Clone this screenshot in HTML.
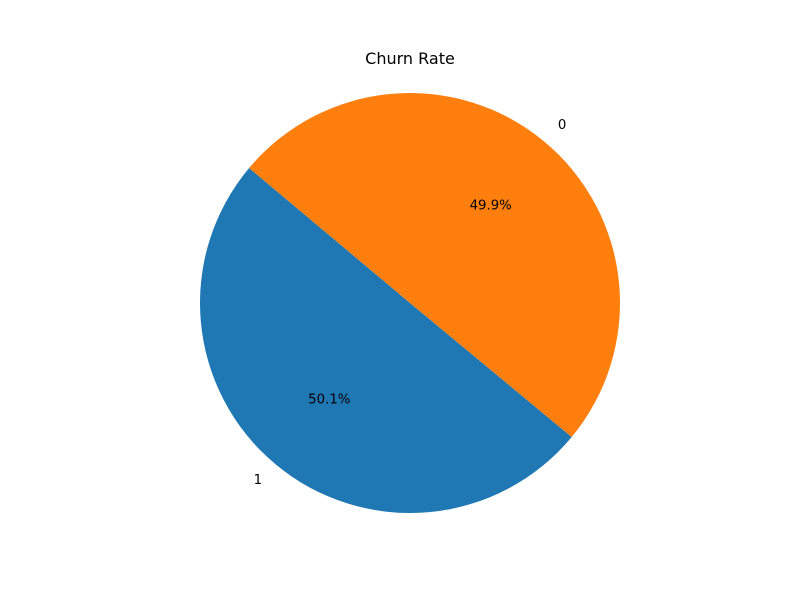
<!DOCTYPE html>
<html>
<head>
<meta charset="utf-8">
<style>
  html, body { margin: 0; padding: 0; background: #fff; }
  svg { display: block; font-family: "DejaVu Sans", "Liberation Sans", sans-serif; }
</style>
</head>
<body>
<svg id="chart" width="800" height="600" viewBox="0 0 800 600">
  <rect x="0" y="0" width="800" height="600" fill="#ffffff"/>
  <text x="410" y="64" text-anchor="middle" font-size="16" fill="#000">Churn Rate</text>
  <g id="slices"></g>
  <g id="labels"></g>
</svg>
<script>
const categories = ["1", "0"];
const values = [50.1, 49.9];
const colors = ["#1f77b4", "#ff7f0e"];
const startAngle = 140;

const cx = 410, cy = 303, r = 210;
const ns = "http://www.w3.org/2000/svg";
const total = values.reduce((a, b) => a + b, 0);
const sliceG = document.getElementById("slices");
const labelG = document.getElementById("labels");
function pt(deg, rad) {
  const a = deg * Math.PI / 180;
  return [cx + rad * Math.cos(a), cy - rad * Math.sin(a)];
}
let ang = startAngle;
values.forEach((v, i) => {
  const sweep = v / total * 360;
  const a0 = ang, a1 = ang + sweep;
  const p0 = pt(a0, r), p1 = pt(a1, r);
  const large = sweep > 180 ? 1 : 0;
  const path = document.createElementNS(ns, "path");
  path.setAttribute("d", `M${cx},${cy} L${p0[0]},${p0[1]} A${r},${r} 0 ${large} 0 ${p1[0]},${p1[1]} Z`);
  path.setAttribute("fill", colors[i]);
  
  
  sliceG.appendChild(path);

  const mid = (a0 + a1) / 2;
  const lp = pt(mid, r * 1.1);
  const lab = document.createElementNS(ns, "text");
  lab.setAttribute("x", lp[0]);
  lab.setAttribute("y", lp[1]);
  lab.setAttribute("text-anchor", Math.cos(mid * Math.PI / 180) < 0 ? "end" : "start");
  lab.setAttribute("dominant-baseline", "central");
  lab.setAttribute("font-size", "13.3");
  lab.textContent = categories[i];
  
  
  labelG.appendChild(lab);

  const pp = pt(mid, r * 0.6);
  const pct = document.createElementNS(ns, "text");
  pct.setAttribute("x", pp[0]);
  pct.setAttribute("y", pp[1]);
  pct.setAttribute("text-anchor", "middle");
  pct.setAttribute("dominant-baseline", "central");
  pct.setAttribute("font-size", "13.3");
  pct.textContent = (v / total * 100).toFixed(1) + "%";
  
  
  labelG.appendChild(pct);

  ang = a1;
});
</script>
</body>
</html>
